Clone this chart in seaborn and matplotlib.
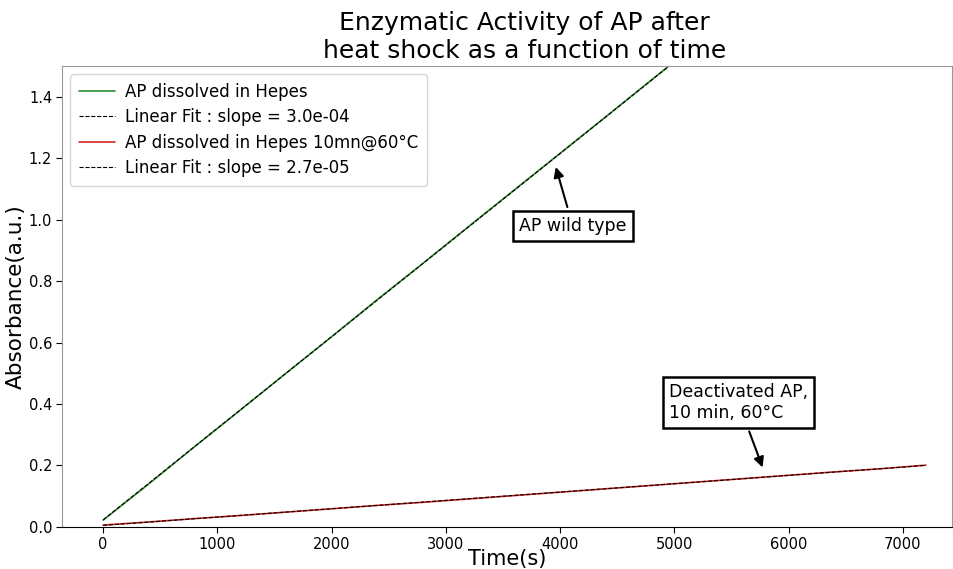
import numpy as np
import pandas as pd
import seaborn as sns
import matplotlib
matplotlib.use("Agg")
import matplotlib.pyplot as plt

# Time points (s) and absorbance
time_s = [0, 400, 800, 1200, 1600, 2000, 2400, 2800, 3200, 3600,
          4000, 4400, 4800, 5200, 5600, 6000, 6400, 6800, 7200]
abs_hepes = [0.022, 0.140, 0.261, 0.380, 0.500, 0.619, 0.740, 0.858, 0.978, 1.097,
             1.216, 1.335, 1.455, 1.574, 1.693, 1.812, 1.930, 2.049, 2.167]
abs_heated = [0.006, 0.016, 0.027, 0.037, 0.048, 0.059, 0.070, 0.080, 0.091, 0.102,
              0.113, 0.124, 0.135, 0.146, 0.157, 0.168, 0.179, 0.189, 0.201]

labels = ["AP dissolved in Hepes", "AP dissolved in Hepes 10mn@60°C"]
colors = ["#2e8b2e", "#d62728"]

sns.set_style("white")
plt.rcParams['font.family'] = ['DejaVu Sans']
plt.rcParams['text.color'] = 'black'
plt.rcParams['axes.labelcolor'] = 'black'
plt.rcParams['xtick.color'] = 'black'
plt.rcParams['ytick.color'] = 'black'

fig = plt.figure(figsize=(9.54, 5.69), dpi=100)
ax = fig.add_axes([0.065, 0.074, 0.933, 0.810])

for y, lab, col in zip([abs_hepes, abs_heated], labels, colors):
    df = pd.DataFrame({'t': time_s, 'a': y})
    sns.lineplot(x='t', y='a', data=df, color=col, linewidth=1.2, label=lab, ax=ax)
    slope, inter = np.polyfit(time_s, y, 1)
    fit = np.polyval([slope, inter], time_s)
    ax.plot(time_s, fit, color='black', linestyle='--', linewidth=0.8,
            label='Linear Fit : slope = %.1e' % slope)

ax.set_xlim(-360, 7430)
ax.set_ylim(0, 1.5)
ax.set_xticks(range(0, 8000, 1000))
ax.set_yticks(np.arange(0, 1.5, 0.2))
ax.tick_params(axis='both', labelsize=10.5, length=4, pad=3, left=True, bottom=True, color='black')

for side in ['left', 'top', 'right']:
    ax.spines[side].set_color('#999999')
ax.spines['bottom'].set_color('black')

ax.set_xlabel('Time(s)', fontsize=15, labelpad=-2)
ax.set_ylabel('Absorbance(a.u.)', fontsize=15.5, labelpad=2)
ax.set_title('Enzymatic Activity of AP after\nheat shock as a function of time',
             fontsize=18, x=0.52, pad=6)

ax.legend(loc='upper left', fontsize=12, frameon=True, borderpad=0.5,
          handlelength=2.2, handletextpad=0.6, labelspacing=0.45)

box = dict(boxstyle='square,pad=0.35', facecolor='white', edgecolor='black', linewidth=1.8)
arrow = dict(arrowstyle='-|>', color='black', linewidth=1.5, mutation_scale=15)
ax.annotate('AP wild type', xy=(3955, 1.18), xytext=(4110, 0.98),
            fontsize=12.5, ha='center', va='center', bbox=box, arrowprops=arrow)
ax.annotate('Deactivated AP,\n10 min, 60°C', xy=(5780, 0.185), xytext=(5560, 0.405),
            fontsize=12.5, ha='center', va='center', multialignment='left',
            bbox=box, arrowprops=arrow)

fig.savefig('out.png', dpi=100)
